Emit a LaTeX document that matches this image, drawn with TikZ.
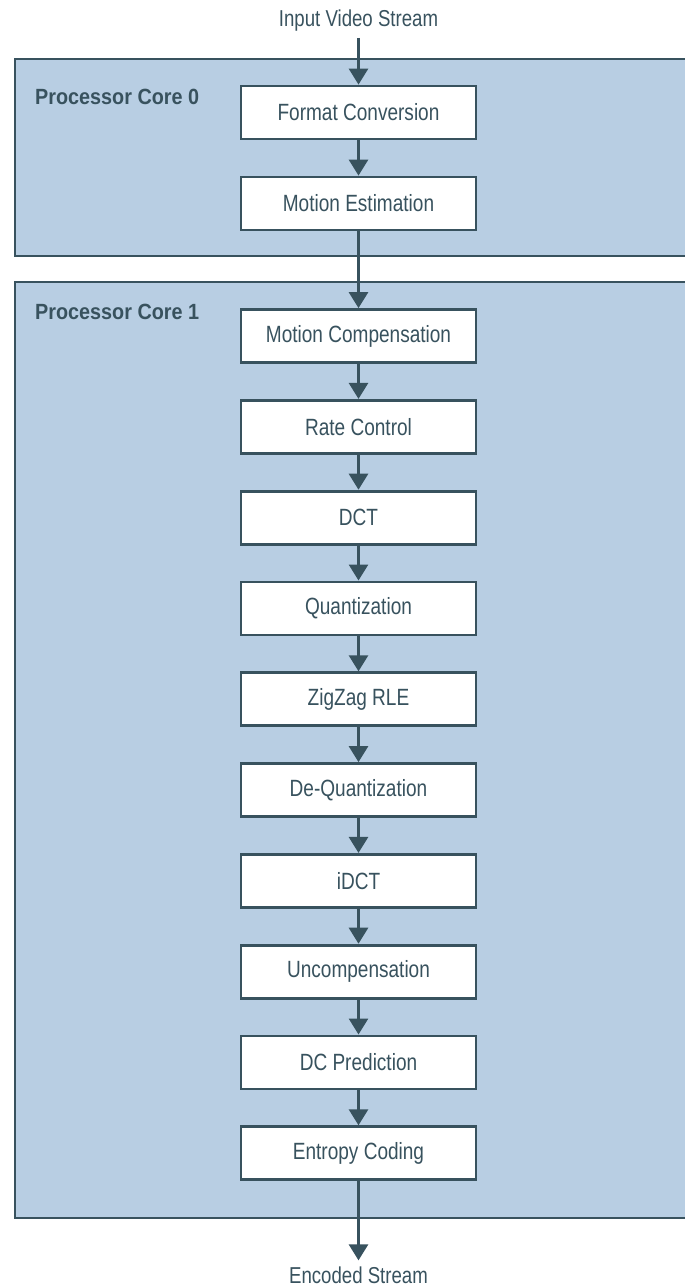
\documentclass[tikz,border=0pt]{standalone}
\usepackage{fontspec}
\setmainfont{Liberation Sans}[FakeStretch=0.81]
\newfontfamily\corefont{Liberation Sans}[FakeStretch=0.9]
\usetikzlibrary{arrows.meta}

\definecolor{ink}{RGB}{56,82,94}
\definecolor{panelfill}{RGB}{184,206,227}

\tikzset{
  panel/.style={draw=ink, line width=2.6pt, fill=panelfill},
  stage/.style={draw=ink, line width=2.8pt, fill=white, minimum width=235pt,
    minimum height=53pt, inner sep=0pt, text=ink,
    font=\fontsize{23.5}{26}\selectfont},
  streamtext/.style={text=ink, inner sep=0pt, font=\fontsize{23}{26}\selectfont},
  corelabel/.style={text=ink, inner sep=0pt, anchor=west,
    font=\corefont\bfseries\fontsize{22}{25}\selectfont},
  flow/.style={draw=ink, line width=2.8pt, -{Triangle[width=19pt,length=16pt]}}
}

\begin{document}
\begin{tikzpicture}[x=1pt, y=-1pt]
  \useasboundingbox (0,0) rectangle (685,1288);
  \clip (0,0) rectangle (685,1288);

  % processor core panels (open to the right)
  \draw[panel] (15,59) rectangle (720,256);
  \draw[panel] (15,282) rectangle (720,1218);
  \node[corelabel] (core0) at (35,97) {Processor Core 0};
  \node[corelabel] (core1) at (35,312) {Processor Core 1};

  % stream endpoints
  \node[streamtext] (in)  at (358.5,21)   {Input Video Stream};
  \node[streamtext] (out) at (358.5,1275) {Encoded Stream};

  % pipeline stages
  \node[stage] (fc)  at (358.5,112.5) {Format Conversion};
  \node[stage] (me)  at (358.5,203.5) {Motion Estimation};
  \node[stage] (mc)  at (358.5,336.0) {Motion Compensation};
  \node[stage] (rc)  at (358.5,426.8) {Rate Control};
  \node[stage] (dct) at (358.5,517.6) {DCT};
  \node[stage] (q)   at (358.5,608.4) {Quantization};
  \node[stage] (zz)  at (358.5,699.2) {ZigZag RLE};
  \node[stage] (dq)  at (358.5,790.0) {De-Quantization};
  \node[stage] (idct) at (358.5,880.8) {iDCT};
  \node[stage] (unc) at (358.5,971.6) {Uncompensation};
  \node[stage] (dcp) at (358.5,1062.4) {DC Prediction};
  \node[stage] (ec)  at (358.5,1153.2) {Entropy Coding};

  % data flow
  \draw[flow, shorten <=6pt] (in.south) -- (fc.north);
  \foreach \a/\b in {fc/me, me/mc, mc/rc, rc/dct, dct/q, q/zz, zz/dq,
                     dq/idct, idct/unc, unc/dcp, dcp/ec}
    \draw[flow] (\a.south) -- (\b.north);
  \draw[flow, shorten >=6pt] (ec.south) -- (out.north);
\end{tikzpicture}
\end{document}
